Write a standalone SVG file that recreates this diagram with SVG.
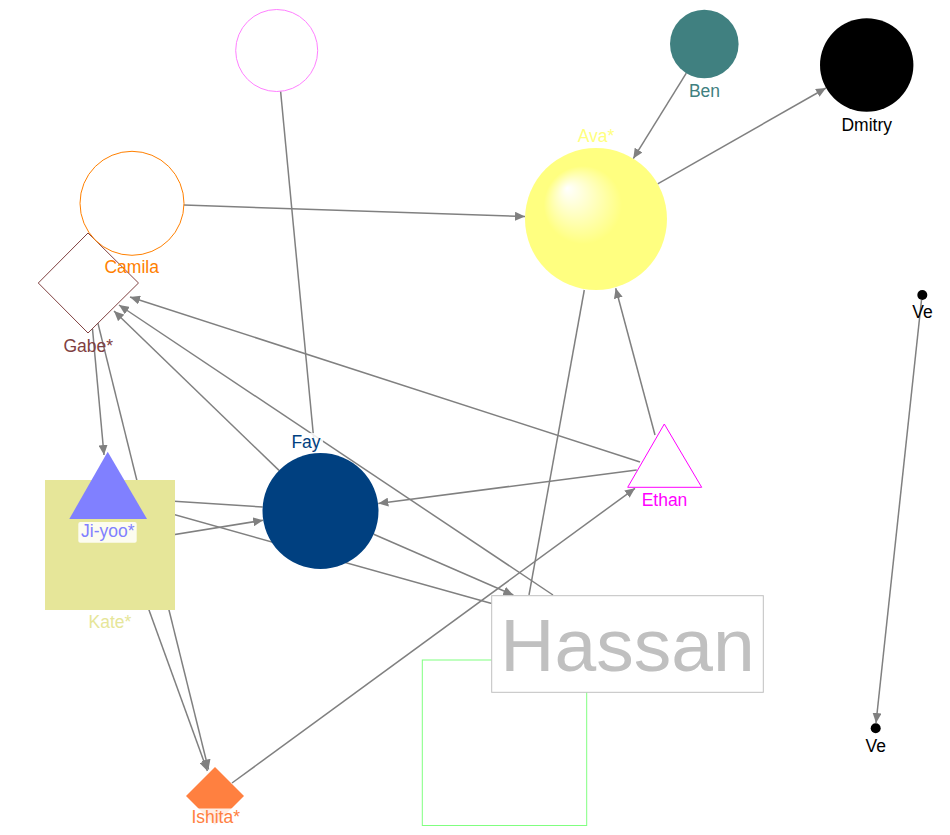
<svg xmlns="http://www.w3.org/2000/svg" width="950" height="835" viewBox="0 0 950 835">
<style>
.e{stroke:#808080;stroke-width:1.5;fill:none}
.a{marker-end:url(#arr)}
text{font-family:"Liberation Sans",Arial,sans-serif;font-size:17.5px;text-anchor:middle}
.bg{fill:#ffffff;fill-opacity:0.85}
</style>
<defs>
<marker id="arr" markerUnits="userSpaceOnUse" markerWidth="11" markerHeight="9" refX="10" refY="4.5" orient="auto">
<path d="M0,0 L10,4.5 L0,9 z" fill="#808080"/>
</marker>
<radialGradient id="avaG" gradientUnits="userSpaceOnUse" cx="596" cy="219" r="71" fx="567" fy="188">
<stop offset="0" stop-color="#ffffff"/>
<stop offset="0.55" stop-color="#ffff80"/>
<stop offset="1" stop-color="#ffff80"/>
</radialGradient>
</defs>
<rect width="950" height="835" fill="#ffffff"/>
<g id="edges">
<line class="e a" x1="686.3" y1="73.2" x2="633.3" y2="158.6"/>
<line class="e a" x1="657.7" y1="183.9" x2="826" y2="88"/>
<line class="e a" x1="184" y1="205" x2="525" y2="216.6"/>
<line class="e" x1="280.6" y1="91.3" x2="315" y2="452"/>
<line class="e a" x1="640" y1="462" x2="130" y2="297"/>
<line class="e a" x1="553" y1="595" x2="119" y2="305"/>
<line class="e a" x1="279" y1="470.4" x2="114" y2="311"/>
<line class="e a" x1="92.5" y1="329" x2="104" y2="455"/>
<line class="e a" x1="97.9" y1="323.1" x2="208.5" y2="769.5"/>
<line class="e a" x1="108" y1="497" x2="207.4" y2="771"/>
<line class="e" x1="262.7" y1="507" x2="108" y2="497"/>
<line class="e" x1="491.7" y1="603.5" x2="108" y2="496"/>
<line class="e a" x1="110" y1="545" x2="263.2" y2="520.2"/>
<line class="e a" x1="373.7" y1="534.2" x2="513.3" y2="595"/>
<line class="e a" x1="636.7" y1="470" x2="378.3" y2="503.4"/>
<line class="e a" x1="232" y1="783" x2="635" y2="488.3"/>
<line class="e a" x1="655" y1="435" x2="615.7" y2="288.3"/>
<line class="e" x1="584.3" y1="290" x2="529" y2="595"/>
<line class="e a" x1="921.5" y1="300" x2="876" y2="723"/>
</g>
<g id="green">
<rect x="422.3" y="660" width="164.4" height="165.5" fill="none" stroke="#80ff80" stroke-width="1"/>
</g>
<g id="hassan">
<rect x="491.7" y="595.7" width="271.6" height="96.6" fill="#ffffff" stroke="#c0c0c0" stroke-width="1"/>
<text x="627.5" y="670.7" style="font-size:75px" fill="#c0c0c0">Hassan</text>
</g>
<g id="pink">
<circle cx="276.7" cy="50.5" r="41" fill="#ffffff" stroke="#ff80ff" stroke-width="1"/>
</g>
<g id="ben">
<circle cx="704.3" cy="44" r="34.3" fill="#408080"/>
<text x="704.5" y="97" fill="#408080">Ben</text>
</g>
<g id="dmitry">
<circle cx="866.7" cy="65" r="46.7" fill="#000000"/>
<text x="866.7" y="131" fill="#000000">Dmitry</text>
</g>
<g id="ava">
<circle cx="596" cy="219" r="71" fill="url(#avaG)"/>
<text x="596" y="141.7" fill="#ffff80">Ava*</text>
</g>
<g id="gabe">
<polygon points="88,233 138.5,283 88,333 38.3,283" fill="none" stroke="#804040" stroke-width="1"/>
<text x="88.3" y="351.7" fill="#804040">Gabe*</text>
</g>
<g id="camila">
<circle cx="132" cy="203.3" r="52" fill="#ffffff" fill-opacity="0.6" stroke="#ff8000" stroke-width="1"/>
<text x="131.7" y="273" fill="#ff8000">Camila</text>
</g>
<g id="kate">
<rect x="45" y="480" width="130" height="130" fill="#e6e699"/>
<text x="110" y="628" fill="#e6e699">Kate*</text>
</g>
<g id="jiyoo">
<polygon points="107.7,451.7 69.3,519 147,519" fill="#8080ff"/>
<rect class="bg" x="78.3" y="522" width="58.4" height="20.7" rx="2"/>
<text x="107.8" y="536.7" fill="#8080ff">Ji-yoo*</text>
</g>
<g id="fay">
<circle cx="320.5" cy="511" r="58" fill="#004080"/>
<rect class="bg" x="289" y="433" width="34" height="20"/>
<text x="306" y="448" fill="#004080">Fay</text>
</g>
<g id="ethan">
<polygon points="664.3,424 627.7,487.3 701.7,487.3" fill="#ffffff" stroke="#ff00ff" stroke-width="1"/>
<text x="664.5" y="506" fill="#ff00ff">Ethan</text>
</g>
<g id="ishita">
<polygon points="215,767 244,796 215,825 186,796" fill="#ff8040"/>
<rect class="bg" x="187" y="808.5" width="57" height="21"/>
<text x="215.7" y="822.7" fill="#ff8040">Ishita*</text>
</g>
<g id="ve1">
<circle cx="922.3" cy="295" r="5" fill="#000000"/>
<text x="922.5" y="318" fill="#000000">Ve</text>
</g>
<g id="ve2">
<circle cx="875.7" cy="728.3" r="5" fill="#000000"/>
<text x="875.8" y="751.7" fill="#000000">Ve</text>
</g>
</svg>
